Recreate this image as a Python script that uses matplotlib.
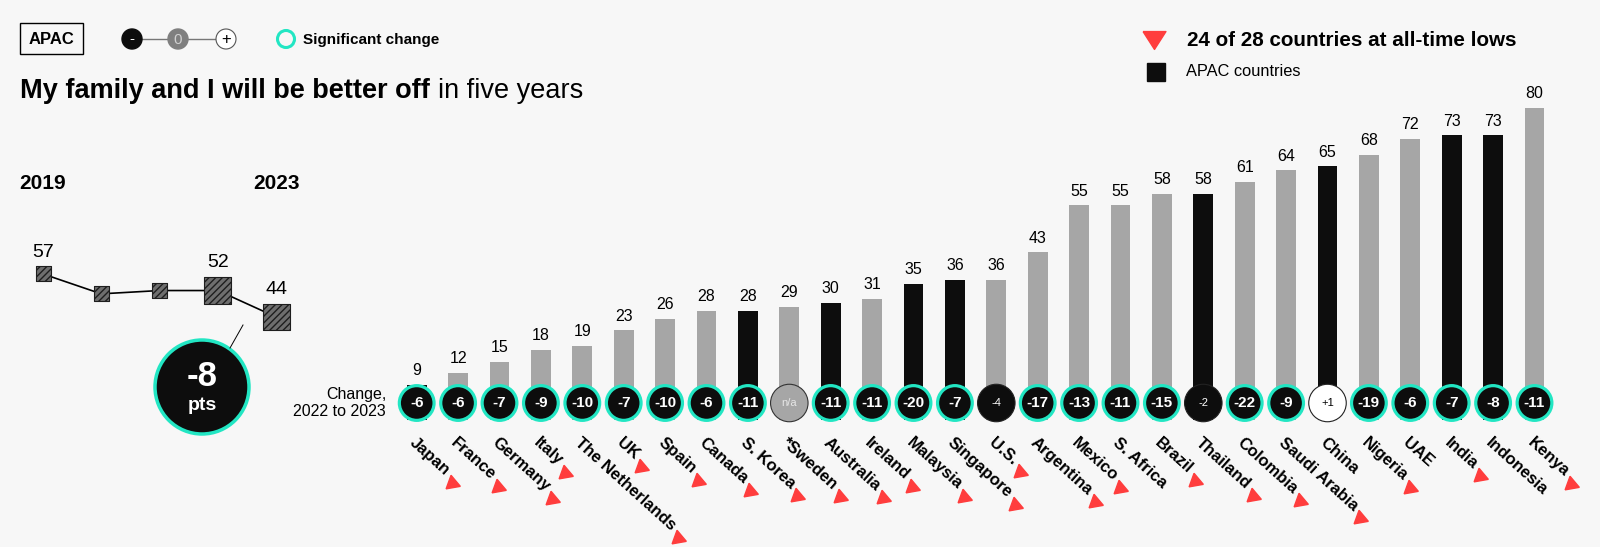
import numpy as np
import matplotlib
matplotlib.use("Agg")
import matplotlib.pyplot as plt
from matplotlib.patches import Circle, Rectangle

plt.rcParams['font.family'] = ['Liberation Sans', 'DejaVu Sans']

# Country data (2023 %, change vs 2022)
countries = ["Japan", "France", "Germany", "Italy", "The Netherlands", "UK", "Spain",
             "Canada", "S. Korea", "*Sweden", "Australia", "Ireland", "Malaysia",
             "Singapore", "U.S.", "Argentina", "Mexico", "S. Africa", "Brazil",
             "Thailand", "Colombia", "Saudi Arabia", "China", "Nigeria", "UAE",
             "India", "Indonesia", "Kenya"]
scores = [9, 12, 15, 18, 19, 23, 26, 28, 28, 29, 30, 31, 35, 36, 36, 43, 55, 55,
          58, 58, 61, 64, 65, 68, 72, 73, 73, 80]
changes = [-6, -6, -7, -9, -10, -7, -10, -6, -11, None, -11, -11, -20, -7, -4, -17,
           -13, -11, -15, -2, -22, -9, 1, -19, -6, -7, -8, -11]
not_significant = ["*Sweden", "U.S.", "Thailand", "China"]
apac_countries = ["Japan", "S. Korea", "Australia", "Malaysia", "Singapore",
                  "Thailand", "China", "India", "Indonesia"]
not_at_low = ["S. Africa", "China", "UAE", "Indonesia"]

# Global trend
trend_years = [2019, 2020, 2021, 2022, 2023]
trend_scores = [57, 51, 52, 52, 44]
trend_labelled = [2019, 2022, 2023]

BG = "#f7f7f7"
GRAY = "#a6a6a6"
BLACK = "#0d0d0d"
TEAL = "#22e6c3"
RED = "#ff3d3d"

W, H = 1600, 547
fig = plt.figure(figsize=(W / 100, H / 100), dpi=100, facecolor=BG)

# background axes in pixel units for decorations
bg = fig.add_axes([0, 0, 1, 1])
bg.set_xlim(0, W)
bg.set_ylim(H, 0)
bg.axis("off")
bg.patch.set_alpha(0)

# --- header ---
bg.add_patch(Rectangle((20, 23), 63, 31, fill=False, edgecolor="black", lw=1))
bg.text(51.5, 39.5, "APAC", ha="center", va="center", fontsize=12, fontweight="bold")

bg.plot([132, 226], [39, 39], color="#777777", lw=1, zorder=1)
bg.add_patch(Circle((132, 39), 10, facecolor=BLACK, edgecolor=BLACK, zorder=2))
bg.add_patch(Circle((178, 39), 10, facecolor="#7f7f7f", edgecolor="#7f7f7f", zorder=2))
bg.add_patch(Circle((226, 39), 10, facecolor="white", edgecolor="#555555", lw=0.8, zorder=2))
bg.text(132, 39.5, "-", ha="center", va="center", color="white", fontsize=11, zorder=3)
bg.text(178, 39.5, "0", ha="center", va="center", color="#d0d0d0", fontsize=11, zorder=3)
bg.text(226, 39.5, "+", ha="center", va="center", color="black", fontsize=12, zorder=3)
bg.add_patch(Circle((286, 39), 8.5, facecolor="none", edgecolor=TEAL, lw=2.2))
bg.text(303, 40, "Significant change", ha="left", va="center", fontsize=11, fontweight="bold")

title_bold = bg.text(20, 91, "My family and I will be better off", ha="left", va="center",
                     fontsize=19.5, fontweight="bold")

flat_down = [(-1, 0.78), (1, 0.78), (0, -0.78), (-1, 0.78)]
bg.plot([1154], [40], marker=flat_down, ms=16.5, color=RED, ls="none")
bg.text(1187, 41, "24 of 28 countries at all-time lows", ha="left", va="center",
        fontsize=14.9, fontweight="bold")
bg.plot([1156], [72], marker="s", ms=13, color=BLACK, ls="none")
bg.text(1186, 72, "APAC countries", ha="left", va="center", fontsize=11.8)

# --- global trend mini chart ---
ax2 = fig.add_axes([20 / W, (H - 340) / H, 280 / W, 90 / H])
ax2.set_xlim(2018.605, 2023.41)
ax2.set_ylim(37.05, 64.25)
ax2.axis("off")
ax2.patch.set_alpha(0)
ax2.plot(trend_years, trend_scores, color="black", lw=1.2, zorder=1)
sq_sizes = [10.8 ** 2, 10.8 ** 2, 10.8 ** 2, 19.4 ** 2, 19.4 ** 2]
ax2.scatter(trend_years, trend_scores, marker="s", s=sq_sizes, facecolor="#6e6e6e",
            edgecolor="#1e1e1e", hatch="/////", linewidths=0.8, zorder=2)
for yr, sc, sz in zip(trend_years, trend_scores, sq_sizes):
    if yr in trend_labelled:
        ax2.annotate(str(sc), (yr, sc), xytext=(0, np.sqrt(sz) / 2 + 7),
                     textcoords="offset points", ha="center", va="baseline", fontsize=14)
ax2.text(trend_years[0], 1.744, str(trend_years[0]), transform=ax2.get_xaxis_transform(),
         ha="center", va="center", fontsize=15, fontweight="bold")
ax2.text(trend_years[-1], 1.744, str(trend_years[-1]), transform=ax2.get_xaxis_transform(),
         ha="center", va="center", fontsize=15, fontweight="bold")

# change bubble
delta = trend_scores[-1] - trend_scores[-2]
bg.plot([243, 230], [325, 348], color="black", lw=0.7)
bg.add_patch(Circle((202, 387), 47, facecolor=BLACK, edgecolor=TEAL, lw=2.5))
bg.text(202, 377, f"{delta:+d}", ha="center", va="center", color="white",
        fontsize=25, fontweight="bold")
bg.text(202, 406, "pts", ha="center", va="center", color="white",
        fontsize=14, fontweight="bold")

# --- country bars ---
PX = 3.9
ZERO = 420
ax = fig.add_axes([396 / W, (H - (ZERO + 3 * PX)) / H, 28 * 41.4 / W, 85 * PX / H])
ax.set_xlim(-0.5, 27.5)
ax.set_ylim(-3, 82)
ax.axis("off")
ax.patch.set_alpha(0)

x = np.arange(len(countries))
bar_colors = [BLACK if c in apac_countries else GRAY for c in countries]
ax.bar(x, scores, width=0.48, color=bar_colors, zorder=2)
for i, v in enumerate(scores):
    ax.annotate(str(v), (i, v), xytext=(0, 7), textcoords="offset points",
                ha="center", va="baseline", fontsize=11.5)

cy = (ZERO - 403) / PX
faces, edges, lws, sizes = [], [], [], []
for c, ch in zip(countries, changes):
    if ch is None:
        faces.append(GRAY); edges.append("#333333"); lws.append(0.8); sizes.append(27 ** 2)
    elif c in not_significant:
        faces.append("white" if ch > 0 else BLACK); edges.append("#222222")
        lws.append(0.8); sizes.append(27 ** 2)
    else:
        faces.append(BLACK); edges.append(TEAL); lws.append(2.3); sizes.append(25 ** 2)
ax.scatter(x, [cy] * len(x), s=sizes, facecolor=faces, edgecolor=edges,
           linewidths=lws, zorder=3, clip_on=False)
for i, (c, ch) in enumerate(zip(countries, changes)):
    if ch is None:
        ax.text(i, cy, "n/a", ha="center", va="center", color="#e6e6e6", fontsize=8, zorder=4)
    elif c in not_significant:
        ax.text(i, cy, f"{ch:+d}", ha="center", va="center",
                color="black" if ch > 0 else "white", fontsize=8, zorder=4)
    else:
        ax.text(i, cy, f"{ch:+d}", ha="center", va="center", color="white",
                fontsize=11, fontweight="bold", zorder=4)

ax.text(-0.74, cy, "Change,\n2022 to 2023", ha="right", va="center", fontsize=11.5,
        linespacing=1.25)

ROT = -42
label_y = (ZERO - 435) / PX
name_texts = []
for i, c in enumerate(countries):
    t = ax.text(i, label_y, c, ha="left", va="top", rotation=0,
                rotation_mode="anchor", fontsize=12, fontweight="bold", clip_on=False)
    name_texts.append(t)

fig.canvas.draw()
renderer = fig.canvas.get_renderer()

bb = title_bold.get_window_extent(renderer)
x_end = bg.transData.inverted().transform((bb.x1, bb.y0))[0]
bg.text(x_end + 8, 91, "in five years", ha="left", va="center", fontsize=19.5)

ang = np.deg2rad(ROT)
d = np.array([np.cos(ang), np.sin(ang)])
perp = np.array([np.sin(ang), -np.cos(ang)])
for i, (c, t) in enumerate(zip(countries, name_texts)):
    ext = t.get_window_extent(renderer)
    w, h = ext.width, ext.height
    t.set_rotation(ROT)
    if c in not_at_low:
        continue
    anchor = ax.transData.transform((i, label_y))
    p = anchor + (w + 10) * d + 0.8 * h * perp
    px, py = ax.transData.inverted().transform(p)
    ax.plot([px], [py], marker=(3, 0, 10), ms=12, color=RED, ls="none", clip_on=False)

fig.savefig("out.png", dpi=100, facecolor=BG)
